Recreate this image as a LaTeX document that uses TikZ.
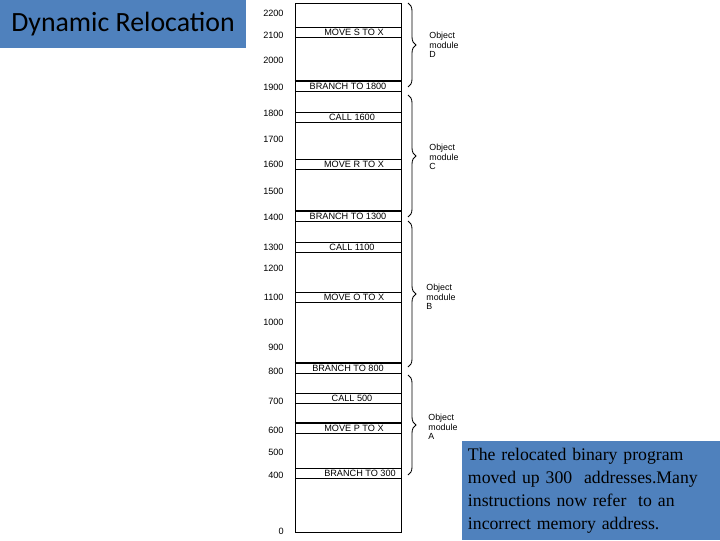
\documentclass[tikz,border=0pt]{standalone}
\usepackage{fontspec}
\usepackage{tikz}
\usetikzlibrary{decorations.pathreplacing, positioning}
\setmainfont{Liberation Serif}
\newfontfamily\titlefont{Carlito}
\newfontfamily\smallfont{Liberation Sans}
\definecolor{slideblue}{RGB}{79,129,189}

\begin{document}
\begin{tikzpicture}[x=0.025cm, y=-0.025cm, line width=0.6pt,
    slot/.style={draw, minimum width=2.65cm, minimum height=0.25cm, inner sep=0pt, font=\smallfont\fontsize{6.5}{7}\selectfont},
    addr/.style={anchor=east, inner sep=0pt, font=\smallfont\fontsize{6.5}{7}\selectfont},
    modbrace/.style={decorate, decoration={brace, amplitude=0.2cm}},
    modlabel/.style={anchor=west, align=left, inner sep=0pt, font=\smallfont\fontsize{6.3}{6.8}\selectfont},
    bluebox/.style={fill=slideblue, draw=none}]
    \useasboundingbox (0,0) rectangle (720,540);

    \node[bluebox, minimum width=6.15cm, minimum height=1.2cm, inner sep=0pt, font=\titlefont\fontsize{19.8}{24}\selectfont] (title) at (123,24) {Dynamic Relocation};

    \node[draw, minimum width=2.65cm, minimum height=13.225cm, inner sep=0pt] (memory) at (348,267.5) {};

    \foreach \y/\a in {13/2200, 35/2100, 60/2000, 87/1900, 113/1800, 139/1700, 164/1600, 191/1500, 217/1400, 247/1300, 268/1200, 297/1100, 322/1000, 347/900, 371/800, 401/700, 430/600, 452/500, 475/400, 531/0}
        \node[addr] at (284,\y) {\a};

    \node[slot] (moveS) at (348,32) {\hspace{0.3cm}MOVE S TO X};
    \node[slot] (branch1800) at (348,86) {BRANCH TO 1800};
    \node[slot] (call1600) at (348,117) {\hspace{0.2cm}CALL 1600};
    \node[slot] (moveR) at (348,164) {\hspace{0.3cm}MOVE R TO X};
    \node[slot] (branch1300) at (348,216) {BRANCH TO 1300};
    \node[slot] (call1100) at (348,247) {\hspace{0.2cm}CALL 1100};
    \node[slot] (moveO) at (348,297) {\hspace{0.3cm}MOVE O TO X};
    \node[slot] (branch800) at (348,368) {BRANCH TO 800};
    \node[slot] (call500) at (348,398.5) {\hspace{0.2cm}CALL 500};
    \node[slot] (moveP) at (348,428.5) {\hspace{0.3cm}MOVE P TO X};
    \node[slot] (branch300) at (348,473) {\hspace{0.6cm}BRANCH TO 300};

    \foreach \r in {branch1800, branch1300, branch800, moveP}
        \draw[line width=1.4pt] (\r.north west) -- (\r.north east);

    \draw[modbrace] (408,3) -- (408,87);
    \draw[modbrace] (408,95) -- (408,217);
    \draw[modbrace] (408,221) -- (408,367);
    \draw[modbrace] (408,375) -- (408,475);

    \node[modlabel] (modD) at (429,45) {Object\\module\\D};
    \node[modlabel] (modC) at (429,157) {Object\\module\\C};
    \node[modlabel] (modB) at (426,297) {Object\\module\\B};
    \node[modlabel] (modA) at (428,427) {Object\\module\\A};

    \node[bluebox, minimum width=6.45cm, minimum height=2.475cm, inner xsep=0.15cm, inner ysep=0pt, text width=6.15cm, align=left, font=\fontsize{12.6}{16.3}\selectfont] (note) at (591,490.5) {The relocated binary program\\moved up 300~ addresses.Many\\instructions now refer~ to an\\incorrect memory address.};
\end{tikzpicture}
\end{document}
